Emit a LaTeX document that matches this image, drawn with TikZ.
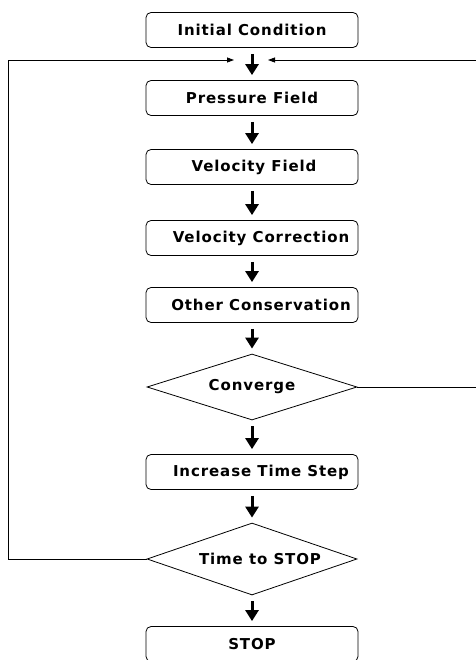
\documentclass[tikz,border=0pt]{standalone}
\usepackage{fontspec}
\newfontfamily\boxfont[LetterSpace=6]{DejaVu Sans Bold}
\usetikzlibrary{arrows.meta,shapes.geometric}

\tikzset{
  stage/.style={draw, rounded corners=5pt, line width=0.8pt,
    minimum width=212pt, minimum height=35pt, inner sep=0pt,
    font=\boxfont\fontsize{15}{18}\selectfont},
  test/.style={draw, diamond, aspect=3, line width=0.8pt,
    minimum width=210pt, inner sep=0pt,
    font=\boxfont\fontsize{15}{18}\selectfont},
  flow/.style={line width=3pt, -{Triangle[width=13pt,length=11pt]},
    shorten <=6pt, shorten >=5pt},
  back/.style={line width=0.8pt, -{Triangle[width=5pt,length=7pt]}}
}

\begin{document}
\begin{tikzpicture}[x=1pt, y=-1pt]
  \def\midx{252}
  \useasboundingbox (0,0) rectangle (475,660);

  % boxes
  \foreach \name/\y/\dx/\txt in {init/30/0/Initial Condition,
      press/98/0/Pressure Field, vel/167/4/Velocity Field,
      corr/238/18/Velocity Correction, other/305/18/Other Conservation,
      incr/472/18/Increase Time Step, stop/644/0/STOP} {
    \node[stage] (\name) at (\midx,\y) {\hspace*{\dx pt}\txt};
  }

  % tests
  \node[test, minimum height=66pt] (conv) at (\midx,387) {Converge};
  \node[test, minimum height=72pt] (tstop) at (\midx,559) {\hspace*{16pt}Time to STOP};

  \foreach \a/\b in {init/press, press/vel, vel/corr, corr/other,
      other/conv, conv/incr, incr/tstop, tstop/stop} {
    \draw[flow] (\a) -- (\b);
  }

  % loops back
  \coordinate (join) at (\midx,60);
  \coordinate (lefttop) at (8,60);
  \coordinate (righttop) at (478,60);
  \draw[back] (tstop.west) -| (lefttop) -- ([xshift=-18pt]join);
  \draw[back] (conv.east) -| (righttop) -- ([xshift=16pt]join);
\end{tikzpicture}
\end{document}
